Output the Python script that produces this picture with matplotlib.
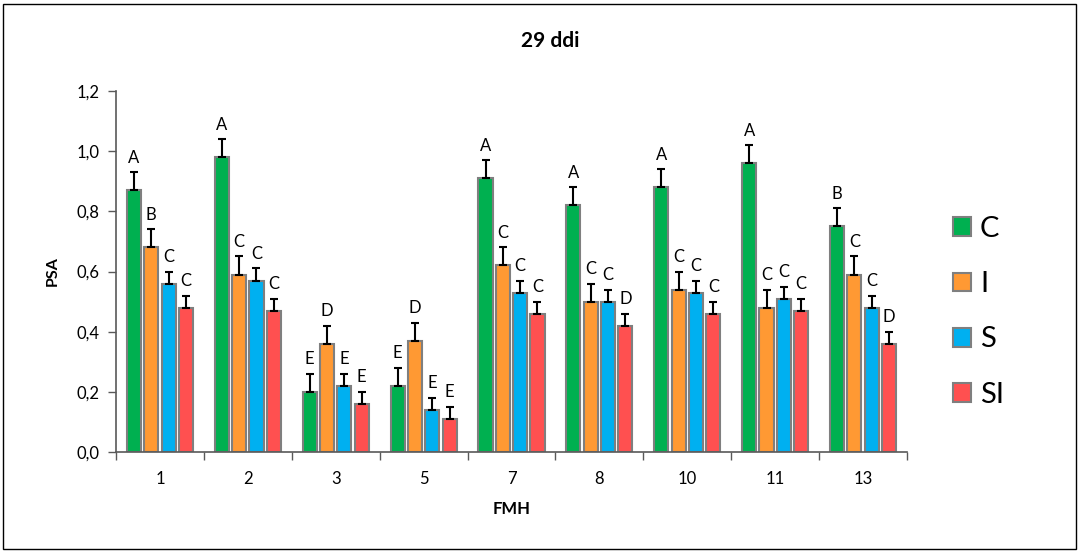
import matplotlib
matplotlib.use("Agg")
import matplotlib.pyplot as plt
from matplotlib.patches import Rectangle, Patch
import numpy as np

plt.rcParams['font.family'] = ['Lato', 'DejaVu Sans']

# FMH groups on the x axis
fmh = ['1', '2', '3', '5', '7', '8', '10', '11', '13']
series = ['C', 'I', 'S', 'SI']
colors = ['#00B050', '#FF9933', '#00B0F0', '#FF5050']

# PSA means per series
psa_c = [0.87, 0.98, 0.20, 0.22, 0.91, 0.82, 0.88, 0.96, 0.75]
psa_i = [0.68, 0.59, 0.36, 0.37, 0.62, 0.50, 0.54, 0.48, 0.59]
psa_s = [0.56, 0.57, 0.22, 0.14, 0.53, 0.50, 0.53, 0.51, 0.48]
psa_si = [0.48, 0.47, 0.16, 0.11, 0.46, 0.42, 0.46, 0.47, 0.36]

# upper error (standard error)
err_c = [0.06] * 9
err_i = [0.06] * 9
err_s = [0.04] * 9
err_si = [0.04] * 9

# significance letters
let_c = ['A', 'A', 'E', 'E', 'A', 'A', 'A', 'A', 'B']
let_i = ['B', 'C', 'D', 'D', 'C', 'C', 'C', 'C', 'C']
let_s = ['C', 'C', 'E', 'E', 'C', 'C', 'C', 'C', 'C']
let_si = ['C', 'C', 'E', 'E', 'C', 'D', 'C', 'C', 'D']

values = [psa_c, psa_i, psa_s, psa_si]
errors = [err_c, err_i, err_s, err_si]
letters = [let_c, let_i, let_s, let_si]

fig = plt.figure(figsize=(10.79, 5.52), dpi=100)
ax = fig.add_axes([0.1075, 0.1812, 0.7331, 0.6539])

x = np.arange(len(fmh))
pitch = 0.197
width = 0.16
for k in range(4):
    pos = x + (k - 1.5) * pitch
    ax.bar(pos, values[k], width, color=colors[k], edgecolor='#7F7F7F', linewidth=1.5, zorder=2)
    ax.errorbar(pos, values[k], yerr=[np.zeros(len(fmh)), errors[k]], fmt='none',
                ecolor='black', elinewidth=1.5, capsize=3, capthick=1.5, zorder=3)
    for xi, v, e, t in zip(pos, values[k], errors[k], letters[k]):
        ax.text(xi, v + e + 0.022, t, ha='center', va='bottom', fontsize=12)

ax.set_xlim(-0.5, len(fmh) - 0.5)
ax.set_ylim(0, 1.2)
ax.set_yticks(np.arange(0, 1.21, 0.2))
ax.set_yticklabels([f'{t:.1f}'.replace('.', ',') for t in np.arange(0, 1.21, 0.2)], fontsize=12)
ax.set_xticks(x)
ax.set_xticklabels(fmh, fontsize=12)
ax.set_xticks(np.arange(-0.5, len(fmh)), minor=True)
ax.tick_params(axis='x', which='major', length=0, pad=14)
ax.tick_params(axis='x', which='minor', length=6, width=1, color='#595959')
ax.tick_params(axis='y', length=6, width=1, color='#595959', pad=6)

for s in ['top', 'right']:
    ax.spines[s].set_visible(False)
for s in ['left', 'bottom']:
    ax.spines[s].set_color('#595959')
    ax.spines[s].set_linewidth(1.2)

fig.text(550 / 1079, 1 - 41 / 552, '29 ddi', fontsize=15, fontweight='bold', ha='center', va='center')
ax.set_ylabel('PSA', fontsize=11.5, fontweight='bold', labelpad=12)
ax.set_xlabel('FMH', fontsize=12, fontweight='bold', labelpad=10)

handles = [Patch(facecolor=c, edgecolor='#7F7F7F', linewidth=1.5) for c in colors]
fig.legend(handles, series, loc='center left', bbox_to_anchor=(0.859, 0.435), frameon=False,
           fontsize=21, handlelength=0.62, handleheight=0.62, handletextpad=0.3, labelspacing=1.0)

fig.patches.append(Rectangle((0.003, 0.005), 0.994, 0.988, transform=fig.transFigure,
                             fill=False, edgecolor='black', linewidth=1))

fig.savefig('out.png', dpi=100)
